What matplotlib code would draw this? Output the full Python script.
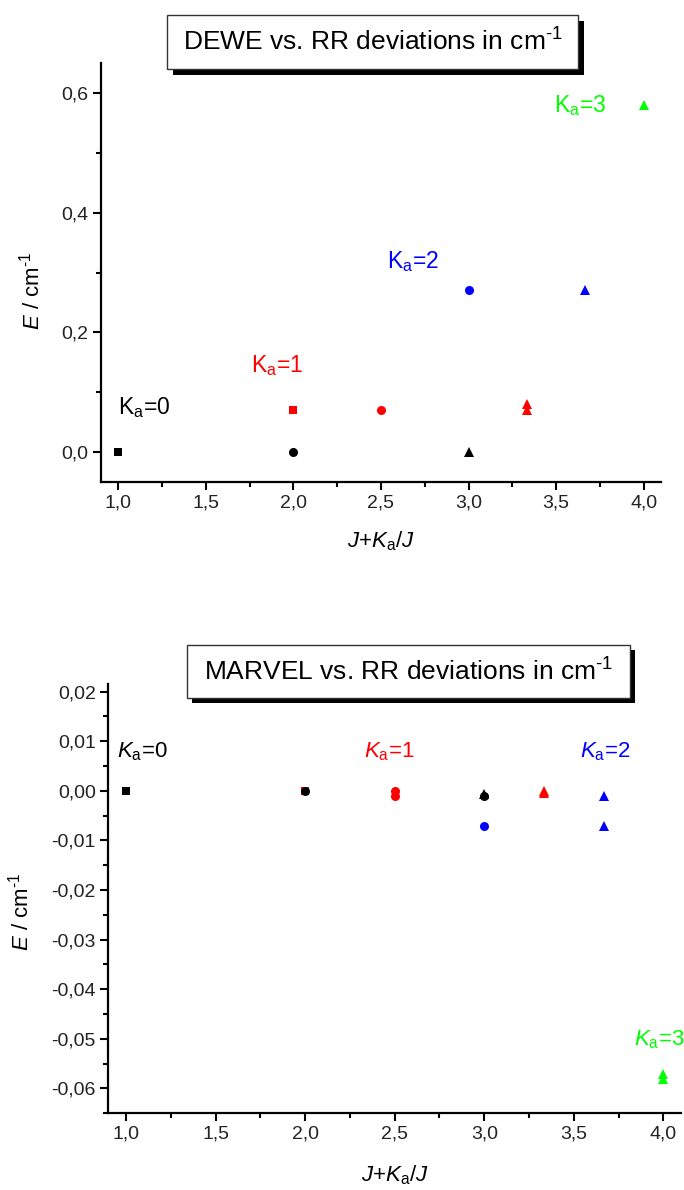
import matplotlib
matplotlib.use("Agg")
import matplotlib.pyplot as plt
from matplotlib.patches import Rectangle
from matplotlib.ticker import MultipleLocator, FuncFormatter

plt.rcParams['font.family'] = ['Liberation Sans', 'DejaVu Sans']
plt.rcParams['mathtext.fontset'] = 'custom'
plt.rcParams['mathtext.rm'] = 'Liberation Sans'
plt.rcParams['mathtext.it'] = 'Liberation Sans:italic'
plt.rcParams['mathtext.bf'] = 'Liberation Sans:bold'

# x = (J+Ka)/J, y = deviation in cm-1
# --- DEWE vs. RR (top panel) ---
dewe_k0_x = [1.0, 2.0, 3.0]
dewe_k0_y = [0.0, 0.0, 0.0]
dewe_k0_m = ['s', 'o', '^']
dewe_k1_x = [2.0, 2.5, 10 / 3, 10 / 3]
dewe_k1_y = [0.07, 0.07, 0.08, 0.07]
dewe_k1_m = ['s', 'o', '^', '^']
dewe_k2_x = [3.0, 11 / 3]
dewe_k2_y = [0.27, 0.27]
dewe_k2_m = ['o', '^']
dewe_k3_x = [4.0]
dewe_k3_y = [0.58]
dewe_k3_m = ['^']

# --- MARVEL vs. RR (bottom panel) ---
marvel_k0_x = [1.0, 2.0, 3.0, 3.0]
marvel_k0_y = [0.0, 0.0, -0.0006, -0.001]
marvel_k0_m = ['s', 'o', '^', 'o']
marvel_k1_x = [2.0, 2.5, 2.5, 10 / 3, 10 / 3]
marvel_k1_y = [0.0, 0.0, -0.001, 0.0, -0.0005]
marvel_k1_m = ['s', 'o', 'o', '^', '^']
marvel_k2_x = [3.0, 11 / 3, 11 / 3]
marvel_k2_y = [-0.007, -0.001, -0.007]
marvel_k2_m = ['o', '^', '^']
marvel_k3_x = [4.0, 4.0]
marvel_k3_y = [-0.057, -0.058]
marvel_k3_m = ['^', '^']

colors = ['black', '#ff0000', '#0000ff', '#00ff00']

W, H = 684, 1190
fig = plt.figure(figsize=(W / 100, H / 100), dpi=100)

SUP = r'$^{\text{-}1}$'


def px_rect(x0, y0, x1, y1):
    # pixel box (top-left origin) -> figure fraction rect
    return [x0 / W, 1 - y1 / H, (x1 - x0) / W, (y1 - y0) / H]


def title_box(x0, y0, x1, y1, shadow, text):
    l, b, w, h = px_rect(x0 + shadow, y0 + shadow, x1 + shadow, y1 + shadow)
    fig.patches.append(Rectangle((l, b), w, h, transform=fig.transFigure,
                                 facecolor='black', edgecolor='none', zorder=5))
    l, b, w, h = px_rect(x0, y0, x1, y1)
    fig.patches.append(Rectangle((l, b), w, h, transform=fig.transFigure,
                                 facecolor='white', edgecolor='#333333',
                                 linewidth=1.0, zorder=6))
    fig.text(l + w / 2, b + h / 2, text, ha='center', va='center',
             fontsize=19, zorder=7)


def comma_fmt(ndig):
    def f(v, pos):
        if abs(v) < 1e-9:
            v = 0.0
        return f'{v:.{ndig}f}'.replace('.', ',')
    return FuncFormatter(f)


def style_axes(ax, ytick_size):
    for s in ['top', 'right']:
        ax.spines[s].set_visible(False)
    for s in ['left', 'bottom']:
        ax.spines[s].set_linewidth(1.6)
    ax.tick_params(which='major', direction='out', length=6, width=1.5,
                   colors='black', labelcolor='#222222', pad=3)
    ax.tick_params(which='minor', direction='out', length=3.5, width=1.5)
    ax.tick_params(axis='x', labelsize=14)
    ax.tick_params(axis='y', labelsize=ytick_size)
    ax.xaxis.set_major_locator(MultipleLocator(0.5))
    ax.xaxis.set_minor_locator(MultipleLocator(0.25))
    ax.xaxis.set_major_formatter(comma_fmt(1))
    ax.set_xlim(0.9, 4.1)


def plot_series(ax, xs, ys, ms, color):
    for x, y, m in zip(xs, ys, ms):
        size = 6 if m == 's' else 6.5
        ax.plot(x, y, linestyle='none', marker=m, markersize=size,
                color=color, markeredgewidth=0, clip_on=False, zorder=3)


# ---------------- top panel ----------------
ax1 = fig.add_axes([0.1472, 0.5947, 0.8196, 0.3526])
style_axes(ax1, 14)
ax1.set_ylim(-0.05, 0.65)
ax1.yaxis.set_major_locator(MultipleLocator(0.2))
ax1.yaxis.set_minor_locator(MultipleLocator(0.1))
ax1.yaxis.set_major_formatter(comma_fmt(1))

plot_series(ax1, dewe_k1_x, dewe_k1_y, dewe_k1_m, colors[1])
plot_series(ax1, dewe_k0_x, dewe_k0_y, dewe_k0_m, colors[0])
plot_series(ax1, dewe_k2_x, dewe_k2_y, dewe_k2_m, colors[2])
plot_series(ax1, dewe_k3_x, dewe_k3_y, dewe_k3_m, colors[3])

ax1.text(1.0, 0.063, r'$\mathrm{K_a}$=0', color=colors[0], fontsize=16.5, va='baseline')
ax1.text(1.756, 0.134, r'$\mathrm{K_a}$=1', color=colors[1], fontsize=16.5, va='baseline')
ax1.text(2.537, 0.307, r'$\mathrm{K_a}$=2', color=colors[2], fontsize=16.5, va='baseline')
ax1.text(3.49, 0.567, r'$\mathrm{K_a}$=3', color=colors[3], fontsize=16.5, va='baseline')

ax1.set_ylabel(r'$E$ / cm' + SUP, fontsize=16)
ax1.yaxis.set_label_coords(-0.1, 0.455)
ax1.set_xlabel(r'$J$+$K_\mathrm{a}$/$J$', fontsize=16)
ax1.xaxis.set_label_coords(0.5, -0.112)

title_box(167, 15, 578, 69, 6, r'DEWE vs. RR deviations in cm' + SUP)

# ---------------- bottom panel ----------------
ax2 = fig.add_axes([0.1583, 0.0645, 0.8376, 0.3605])
style_axes(ax2, 14)
ax2.set_ylim(-0.065, 0.0215)
ax2.yaxis.set_major_locator(MultipleLocator(0.01))
ax2.yaxis.set_minor_locator(MultipleLocator(0.005))
ax2.yaxis.set_major_formatter(comma_fmt(2))

plot_series(ax2, marvel_k1_x, marvel_k1_y, marvel_k1_m, colors[1])
plot_series(ax2, marvel_k0_x, marvel_k0_y, marvel_k0_m, colors[0])
plot_series(ax2, marvel_k2_x, marvel_k2_y, marvel_k2_m, colors[2])
plot_series(ax2, marvel_k3_x, marvel_k3_y, marvel_k3_m, colors[3])

ax2.text(0.946, 0.0068, r'$K_\mathrm{a}$=0', color=colors[0], fontsize=16, va='baseline')
ax2.text(2.328, 0.0068, r'$K_\mathrm{a}$=1', color=colors[1], fontsize=16, va='baseline')
ax2.text(3.533, 0.0068, r'$K_\mathrm{a}$=2', color=colors[2], fontsize=16, va='baseline')
ax2.text(3.836, -0.0513, r'$K_\mathrm{a}$=3', color=colors[3], fontsize=16, va='baseline')

ax2.set_ylabel(r'$E$ / cm' + SUP, fontsize=16)
ax2.yaxis.set_label_coords(-0.131, 0.47)
ax2.set_xlabel(r'$J$+$K_\mathrm{a}$/$J$', fontsize=16)
ax2.xaxis.set_label_coords(0.5, -0.118)

title_box(187, 645, 630, 698, 5, r'MARVEL vs. RR deviations in cm' + SUP)

fig.savefig('out.png', dpi=100)
